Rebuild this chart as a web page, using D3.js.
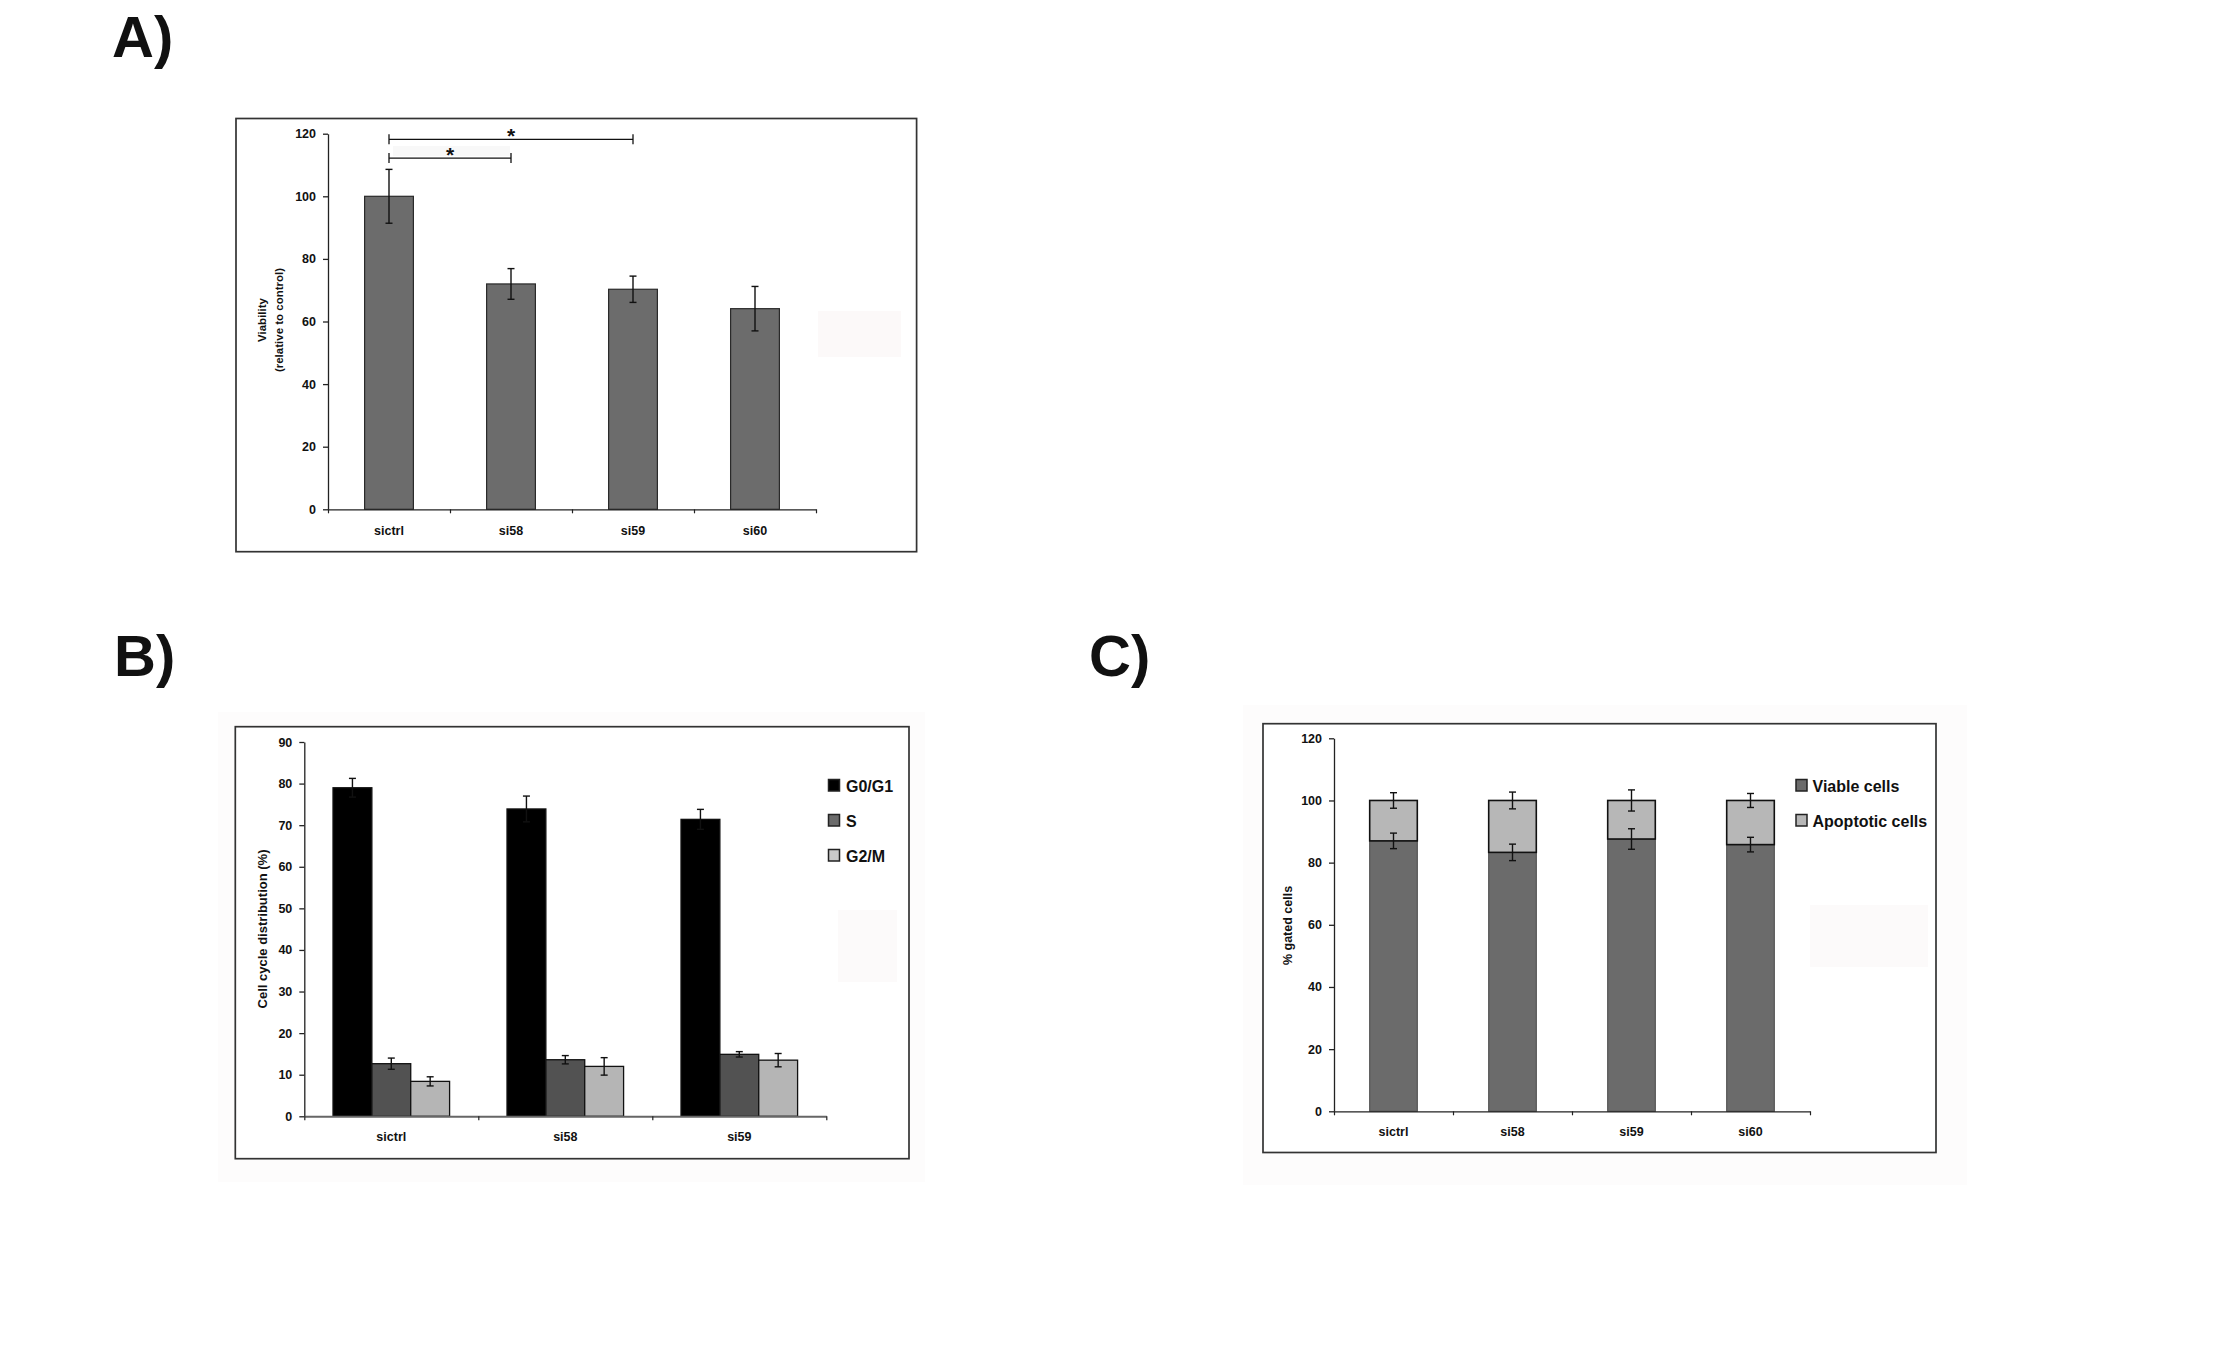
<!DOCTYPE html>
<html>
<head>
<meta charset="utf-8">
<script src="https://cdn.jsdelivr.net/npm/d3@7"></script>
<style>
  body { margin: 0; background: #fff; }
  svg text { font-family: "Liberation Sans", Arial, sans-serif; font-weight: bold; fill: #111; }
</style>
</head>
<body>
<svg></svg>
<script>
// Panel A - viability
const catsA = ["sictrl", "si58", "si59", "si60"];
const viability = [100, 72, 70.3, 64.1];
const viabilityErr = [8.6, 4.9, 4.2, 7.1];
const ticksA = [0, 20, 40, 60, 80, 100, 120];
const sigPairs = [
    { from: "sictrl", to: "si58", y: 112.2 },
    { from: "sictrl", to: "si59", y: 118.2 }
];

// Panel B - cell cycle
const catsB = ["sictrl", "si58", "si59"];
const phases = ["G0/G1", "S", "G2/M"];
const g0g1 = [79.0, 73.9, 71.4];
const g0g1Err = [2.25, 3.1, 2.4];
const sPhase = [12.65, 13.6, 14.9];
const sPhaseErr = [1.35, 1.0, 0.65];
const g2m = [8.4, 12.0, 13.5];
const g2mErr = [1.1, 2.1, 1.6];
const ticksB = [0, 10, 20, 30, 40, 50, 60, 70, 80, 90];

// Panel C - apoptosis
const catsC = ["sictrl", "si58", "si59", "si60"];
const cellTypes = ["Viable cells", "Apoptotic cells"];
const viableCells = [87.0, 83.3, 87.6, 85.8];
const viableErr = [2.5, 2.65, 3.3, 2.35];
const apoptoticCells = [13.0, 16.7, 12.4, 14.2];
const apoptoticErr = [2.5, 2.7, 3.4, 2.25];
const ticksC = [0, 20, 40, 60, 80, 100, 120];

const svg = d3.select("svg").attr("width", 2220).attr("height", 1371);

// faint scan backgrounds + frames
function panelFrame(bg, fr) {
    if (bg) {
        svg.append("rect").attr("x", bg[0]).attr("y", bg[1]).attr("width", bg[2] - bg[0]).attr("height", bg[3] - bg[1])
            .attr("fill", "#fdfcfc");
    }
    svg.append("rect").attr("x", fr[0]).attr("y", fr[1]).attr("width", fr[2] - fr[0]).attr("height", fr[3] - fr[1])
        .attr("fill", "#fff").attr("stroke", "#333").attr("stroke-width", 1.7);
}

function yAxis(y, ticks, x0) {
    const g = svg.append("g")
        .attr("transform", `translate(${x0},0)`)
        .call(d3.axisLeft(y).tickValues(ticks).tickSize(5).tickSizeOuter(0).tickPadding(7));
    g.selectAll("text").attr("font-size", 12.5).style("font-family", "'Liberation Sans', Arial, sans-serif").style("font-weight", "bold");
    g.selectAll("line, path").attr("stroke", "#222").attr("stroke-width", 1.3);
    return g;
}

function xAxis(x, n, y0, labelY, axisColor = "#222", axisWidth = 1.3) {
    const [r0, r1] = x.range();
    const lin = d3.scaleLinear().domain([0, n]).range([r0, r1]);
    const g = svg.append("g").attr("transform", `translate(0,${y0})`)
        .call(d3.axisBottom(lin).ticks(n).tickSize(4).tickSizeOuter(0).tickFormat(""));
    g.selectAll("line").attr("stroke", "#222").attr("stroke-width", 1.2);
    g.select("path").attr("stroke", axisColor).attr("stroke-width", axisWidth);
    const lab = svg.append("g").attr("transform", `translate(0,${y0})`)
        .call(d3.axisBottom(x).tickSize(0).tickPadding(labelY));
    lab.select("path").remove();
    lab.selectAll("text").attr("font-size", 12.5).style("font-family", "'Liberation Sans', Arial, sans-serif").style("font-weight", "bold").attr("fill", "#111");
}

function errorBar(cx, yTop, yBot, cap) {
    svg.append("line").attr("x1", cx).attr("x2", cx).attr("y1", yTop).attr("y2", yBot)
        .attr("stroke", "#111").attr("stroke-width", 1.4);
    [yTop, yBot].forEach(yy => svg.append("line")
        .attr("x1", cx - cap).attr("x2", cx + cap).attr("y1", yy).attr("y2", yy)
        .attr("stroke", "#111").attr("stroke-width", 1.4));
}

function yLabel(lines, cx, cy, size) {
    const t = svg.append("text")
        .attr("transform", `translate(${cx},${cy}) rotate(-90)`)
        .attr("text-anchor", "middle")
        .attr("font-size", size);
    lines.forEach((l, i) => t.append("tspan").attr("x", 0).attr("y", i * (size * 1.45)).text(l));
}

// panel letters
[["A)", 112, 57], ["B)", 114, 676], ["C)", 1089, 676]].forEach(([s, x, y]) =>
    svg.append("text").attr("x", x).attr("y", y).attr("font-size", 58).text(s));

// ---------- Panel A ----------
panelFrame(null, [236, 118.5, 916.6, 551.7]);
svg.append("rect").attr("x", 818).attr("y", 311).attr("width", 83).attr("height", 46).attr("fill", "#fcf9f9");

const xA = d3.scaleBand().domain(catsA).range([328, 816]);
const yA = d3.scaleLinear().domain([0, 120]).range([509.3, 133.7]);

svg.append("rect").attr("x", 393).attr("y", 146).attr("width", 117).attr("height", 10).attr("fill", "#f8f8f8");

svg.append("g").selectAll("rect")
    .data(catsA)
    .join("rect")
    .attr("x", d => xA(d) + xA.bandwidth() * 0.3)
    .attr("width", xA.bandwidth() * 0.4)
    .attr("y", (d, i) => yA(viability[i]))
    .attr("height", (d, i) => yA(0) - yA(viability[i]))
    .attr("fill", "#6c6c6c")
    .attr("stroke", "#2a2a2a")
    .attr("stroke-width", 1.2);

catsA.forEach((c, i) => errorBar(xA(c) + xA.bandwidth() / 2,
    yA(viability[i] + viabilityErr[i]), yA(viability[i] - viabilityErr[i]), 3.5));

yAxis(yA, ticksA, 328);
xAxis(xA, catsA.length, 509.3, 17);
yLabel(["Viability", "(relative to control)"], 266, 320, 11.5);

sigPairs.forEach(p => {
    const x1 = xA(p.from) + xA.bandwidth() / 2;
    const x2 = xA(p.to) + xA.bandwidth() / 2;
    const yy = yA(p.y);
    svg.append("line").attr("x1", x1).attr("x2", x2).attr("y1", yy).attr("y2", yy)
        .attr("stroke", "#111").attr("stroke-width", 1.3);
    [x1, x2].forEach(xx => svg.append("line").attr("x1", xx).attr("x2", xx)
        .attr("y1", yy - 5).attr("y2", yy + 5).attr("stroke", "#111").attr("stroke-width", 1.3));
    svg.append("text").attr("x", (x1 + x2) / 2).attr("y", yy + 4)
        .attr("text-anchor", "middle").attr("font-size", 21).text("*");
});

// ---------- Panel B ----------
panelFrame([218, 712, 925, 1182], [235.3, 726.7, 909, 1158.7]);
svg.append("rect").attr("x", 838).attr("y", 910).attr("width", 59).attr("height", 72).attr("fill", "#fcfafa");

const xB = d3.scaleBand().domain(catsB).range([304.3, 826.3]);
const xB1 = d3.scaleBand().domain(phases).range([xB.bandwidth() * 0.165, xB.bandwidth() * 0.835]);
const yB = d3.scaleLinear().domain([0, 90]).range([1116.3, 742]);
const colorB = d3.scaleOrdinal().domain(phases).range(["#000000", "#525252", "#b5b5b5"]);
const valsB = [g0g1, sPhase, g2m];
const errsB = [g0g1Err, sPhaseErr, g2mErr];

const rowsB = [];
catsB.forEach((c, i) => phases.forEach((p, j) =>
    rowsB.push({ cat: c, phase: p, value: valsB[j][i], err: errsB[j][i] })));

svg.append("g").selectAll("rect")
    .data(rowsB)
    .join("rect")
    .attr("x", d => xB(d.cat) + xB1(d.phase))
    .attr("width", xB1.bandwidth())
    .attr("y", d => yB(d.value))
    .attr("height", d => yB(0) - yB(d.value))
    .attr("fill", d => colorB(d.phase))
    .attr("stroke", "#111")
    .attr("stroke-width", 1.3);

rowsB.forEach(d => errorBar(xB(d.cat) + xB1(d.phase) + xB1.bandwidth() / 2,
    yB(d.value + d.err), yB(d.value - d.err), 3.5));

yAxis(yB, ticksB, 304.3);
xAxis(xB, catsB.length, 1116.3, 15.5, "#666", 2);
yLabel(["Cell cycle distribution (%)"], 266.5, 929, 13);

const legB = svg.append("g");
phases.forEach((p, i) => {
    legB.append("rect").attr("x", 828.5).attr("y", 779.5 + i * 35).attr("width", 11).attr("height", 11.5)
        .attr("fill", i === 1 ? "#6b6b6b" : (i === 2 ? "#c9c9c9" : colorB(p)))
        .attr("stroke", "#222").attr("stroke-width", 1.5);
    legB.append("text").attr("x", 846).attr("y", 791.5 + i * 35).attr("font-size", 16).text(p);
});

// ---------- Panel C ----------
panelFrame([1243, 705, 1967, 1185], [1263, 723.7, 1936, 1152.5]);
svg.append("rect").attr("x", 1810).attr("y", 905).attr("width", 118).attr("height", 62).attr("fill", "#fcfafa");

const xC = d3.scaleBand().domain(catsC).range([1334, 1810]);
const yC = d3.scaleLinear().domain([0, 120]).range([1111.3, 738.3]);
const colorC = d3.scaleOrdinal().domain(cellTypes).range(["#6b6b6b", "#b7b7b7"]);

const tableC = catsC.map((c, i) => ({ cat: c, "Viable cells": viableCells[i], "Apoptotic cells": apoptoticCells[i] }));
const stackC = d3.stack().keys(cellTypes)(tableC);
const errsC = [viableErr, apoptoticErr];

stackC.forEach((layer, li) => {
    svg.append("g").selectAll("rect")
        .data(layer)
        .join("rect")
        .attr("x", d => xC(d.data.cat) + xC.bandwidth() * 0.3)
        .attr("width", xC.bandwidth() * 0.4)
        .attr("y", d => yC(d[1]))
        .attr("height", d => yC(d[0]) - yC(d[1]))
        .attr("fill", colorC(layer.key))
        .attr("stroke", li === 0 ? "#555" : "#111")
        .attr("stroke-width", li === 0 ? 1.2 : 1.6);
});

stackC.forEach((layer, li) => layer.forEach((d, i) => {
    const cx = xC(d.data.cat) + xC.bandwidth() / 2;
    errorBar(cx, yC(d[1] + errsC[li][i]), yC(d[1] - errsC[li][i]), 3.5);
}));

yAxis(yC, ticksC, 1334);
xAxis(xC, catsC.length, 1111.3, 16);
yLabel(["% gated cells"], 1291.5, 925.5, 12.5);

const legC = svg.append("g");
cellTypes.forEach((t, i) => {
    legC.append("rect").attr("x", 1796).attr("y", 779.5 + i * 35).attr("width", 11).attr("height", 11.5)
        .attr("fill", colorC(t)).attr("stroke", "#222").attr("stroke-width", 1.5);
    legC.append("text").attr("x", 1812.5).attr("y", 791.5 + i * 35).attr("font-size", 16).text(t);
});
</script>
</body>
</html>
